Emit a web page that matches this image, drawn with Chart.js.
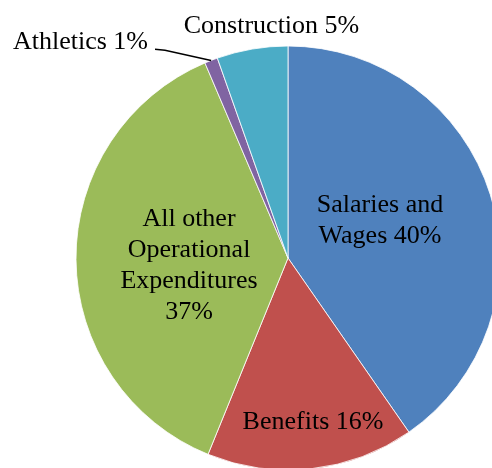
<!DOCTYPE html>
<html>
<head>
<meta charset="utf-8">
<script src="https://cdn.jsdelivr.net/npm/chart.js@4.4.1/dist/chart.umd.min.js"></script>
<style>
  html, body { margin: 0; padding: 0; width: 492px; height: 468px; overflow: hidden; background: #fff; }
  #wrap { position: absolute; left: 0; top: 0; width: 576px; height: 516px; }
</style>
</head>
<body>
<div id="wrap"><canvas id="c" width="576" height="516"></canvas></div>
<script>
// ---- data ----
const categories = ["Salaries and Wages", "Benefits", "All other Operational Expenditures", "Athletics", "Construction"];
const values = [40.3, 15.8, 37.4, 1.0, 5.4];
const percentLabels = ["40%", "16%", "37%", "1%", "5%"];
const labelLines = [
  ["Salaries and", "Wages 40%"],
  ["Benefits 16%"],
  ["All other", "Operational", "Expenditures", "37%"],
  ["Athletics 1%"],
  ["Construction 5%"]
];
const colors = ["#4F81BD", "#C0504D", "#9BBB59", "#8064A2", "#4BACC6"];

// label placement (offsets from pie centre, px) - layout only
const labelOffsets = [
  [92, -39.5],
  [25, 162],
  [-99, 5],
  [-207.5, -217.7],
  [-16.5, -234.5]
];
const leaderSlices = [3];

const FONT_SIZE = 26;
const LINE_H = 31;

const labelPlugin = {
  id: 'sliceLabels',
  afterDatasetsDraw(chart) {
    const ctx = chart.ctx;
    const meta = chart.getDatasetMeta(0);
    ctx.save();
    ctx.font = FONT_SIZE + 'px "Liberation Serif", "Times New Roman", serif';
    ctx.fillStyle = '#000';
    ctx.textAlign = 'center';
    ctx.textBaseline = 'alphabetic';
    meta.data.forEach((arc, i) => {
      const p = arc.getProps(['x', 'y', 'startAngle', 'endAngle', 'outerRadius'], true);
      const ax = p.x + labelOffsets[i][0];
      const ay = p.y + labelOffsets[i][1];
      const lines = labelLines[i];
      const n = lines.length;
      lines.forEach((t, k) => {
        const by = ay + (k - (n - 1) / 2) * LINE_H + 9;
        ctx.fillText(t, ax, by);
      });
      if (leaderSlices.includes(i)) {
        const mid = (p.startAngle + p.endAngle) / 2;
        const sx = p.x + Math.cos(mid) * p.outerRadius;
        const sy = p.y + Math.sin(mid) * p.outerRadius;
        ctx.beginPath();
        ctx.strokeStyle = '#000';
        ctx.lineWidth = 1.5;
        ctx.moveTo(sx, sy);
        ctx.lineTo(ax + 84.5, ay + 10);
        ctx.lineTo(ax + 74.5, ay + 9);
        ctx.stroke();
      }
    });
    ctx.restore();
  }
};

new Chart(document.getElementById('c'), {
  type: 'pie',
  data: {
    labels: categories,
    datasets: [{
      data: values,
      backgroundColor: colors,
      borderColor: 'rgba(255,255,255,0.8)',
      borderWidth: 1
    }]
  },
  options: {
    responsive: false,
    animation: false,
    devicePixelRatio: 1,
    radius: 212,
    layout: { padding: 0 },
    plugins: {
      legend: { display: false },
      tooltip: { enabled: false }
    }
  },
  plugins: [labelPlugin]
});
</script>
</body>
</html>
